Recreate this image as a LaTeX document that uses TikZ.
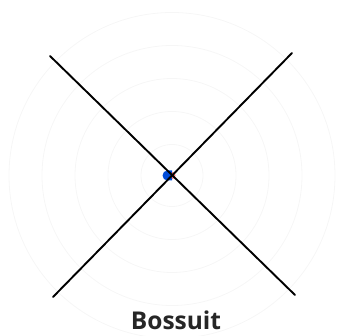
\documentclass[tikz,border=0pt]{standalone}
\usepackage{fontspec}
\setmainfont{Open Sans}
\usepackage{xcolor}
\usepackage{tikz}
\usetikzlibrary{positioning,calc}

\begin{document}
\begin{tikzpicture}[x=1pt,y=-1pt,
  ring/.style={draw=gray!7,line width=0.8pt},
  cross/.style={draw=black,line width=1.9pt,line cap=round},
  lbl/.style={font=\bfseries\fontsize{24.5}{28}\selectfont,text=black!85,inner sep=0pt}]
\useasboundingbox (0,0) rectangle (337,336);
\coordinate (c) at (172,175.5);
\begin{scope}
\clip (0,0) rectangle (337,336);
\foreach \r in {31,64,97,130,163} \draw[ring] (c) circle (\r);
\end{scope}
\coordinate (tl) at (50,56);
\coordinate (br) at (295,295);
\coordinate (bl) at (53,297);
\coordinate (tr) at (292,53);
% markers at the crossing
\fill[blue!65!cyan!85!black] ($(c)+(-4.5,5)$) arc (90:270:5) -- ++(4.5,0) -- ++(0,10) -- cycle;
\fill[red!55] ($(c)+(0,3.5)$) arc (90:-90:3.5) -- cycle;
\draw[cross] (tl) -- (br);
\draw[cross] (bl) -- (tr);
\node[lbl,anchor=base] (name) at (176,329) {Bossuit};
\end{tikzpicture}
\end{document}
